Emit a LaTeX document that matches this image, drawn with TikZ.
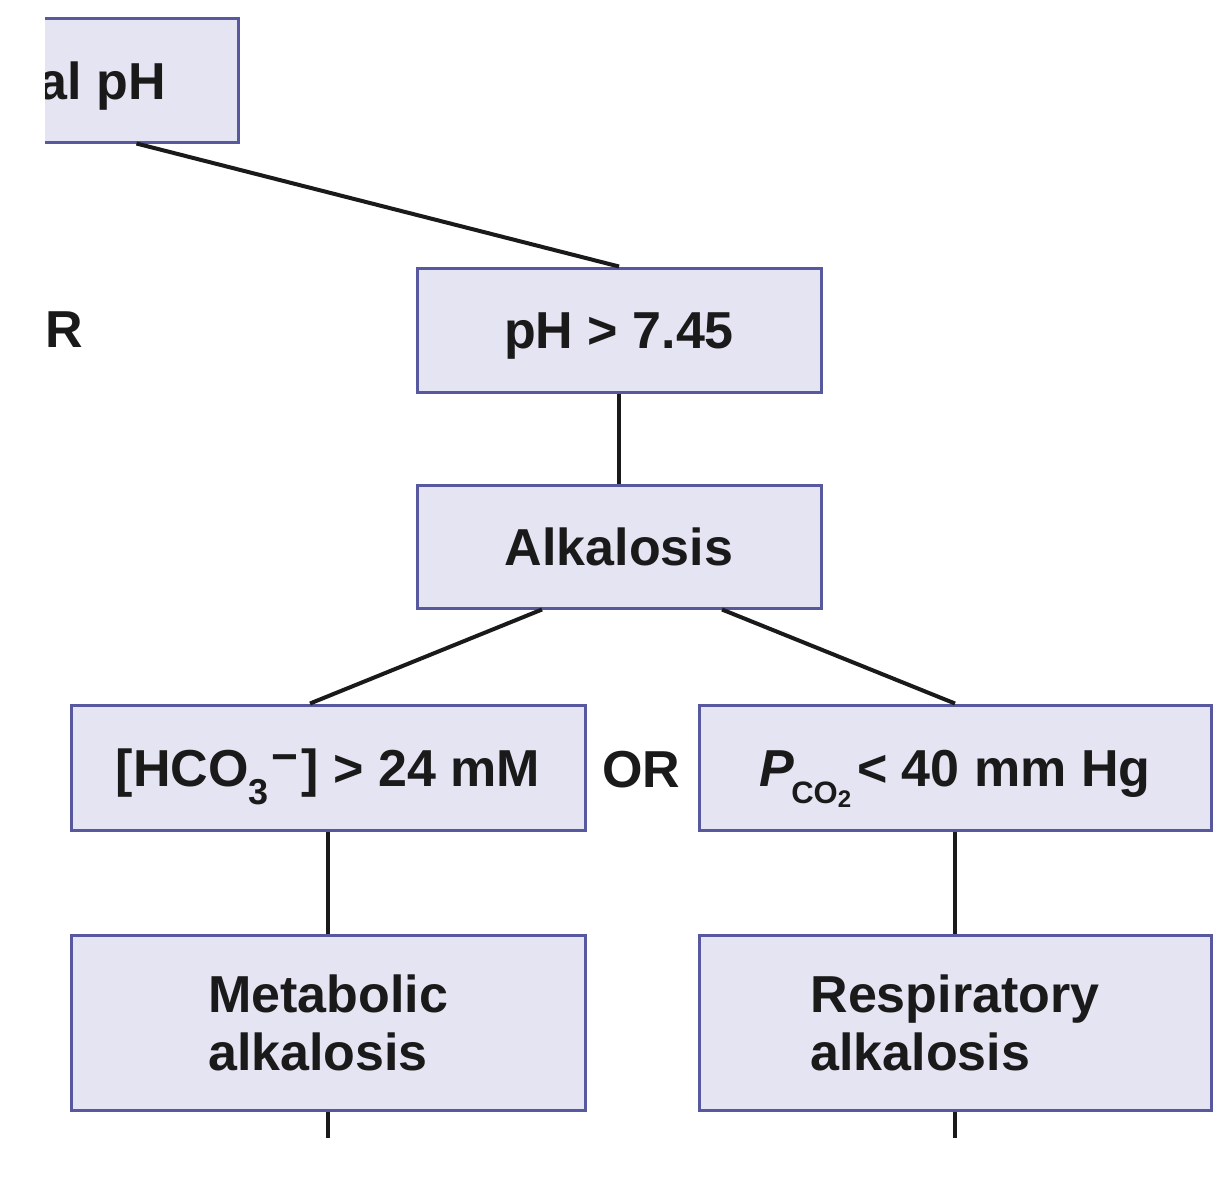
\documentclass[tikz,border=0pt]{standalone}
\usepackage{fontspec}
\setmainfont{Liberation Sans}
\usetikzlibrary{calc}
\definecolor{boxfill}{RGB}{228,228,242}
\definecolor{boxline}{RGB}{88,88,158}
\definecolor{ink}{RGB}{26,26,26}
\begin{document}
\begin{tikzpicture}[x=1pt,y=-1pt,
  box/.style={draw=boxline, fill=boxfill, line width=3pt, inner sep=0pt, text=ink,
    font=\fontsize{52}{58}\selectfont\bfseries},
  onebox/.style={box, text height=37pt, text depth=0pt},
  label/.style={inner sep=0pt, text=ink, font=\fontsize{52}{58}\selectfont\bfseries},
  link/.style={draw=ink, line width=4pt}]
\useasboundingbox (0,0) rectangle (1230,1200);
\fill[white] (0,0) rectangle (1230,1200);
\clip (45,0) rectangle (1230,1200);

\coordinate (topc) at (69,80);
\coordinate (phc) at (619,330);
\coordinate (alkc) at (619,546.5);
\coordinate (hcoc) at (328,767.5);
\coordinate (pcoc) at (955,767.5);
\coordinate (metc) at (328,1022.5);
\coordinate (respc) at (955,1022.5);

\node[box, minimum width=338pt, minimum height=124pt] (top) at (topc) {};
\node[label, anchor=base east] (toplabel) at (166,99) {al pH};
\node[label, anchor=base west] (orleft) at (45,347) {R};

\node[onebox, minimum width=404pt, minimum height=124pt] (ph) at (phc) {pH > 7.45};
\node[onebox, minimum width=404pt, minimum height=123pt] (alk) at (alkc) {Alkalosis};
\node[onebox, minimum width=514pt, minimum height=125pt] (hco) at (hcoc)
  {[HCO\raisebox{-18pt}{\fontsize{36}{36}\selectfont 3}\hspace{3pt}\raisebox{14pt}{\fontsize{46}{46}\selectfont −}\hspace{3pt}] > 24 mM};
\node[label] (or) at (641,770) {OR};
\node[onebox, minimum width=512pt, minimum height=125pt] (pco) at (pcoc)
  {\textit{P}\hspace{-3pt}\raisebox{-17pt}{\fontsize{31}{31}\selectfont CO\raisebox{-4pt}{\fontsize{24}{24}\selectfont 2}}\hspace{6pt}< 40 mm Hg};
\node[box, minimum width=514pt, minimum height=175pt, align=left] (met) at (metc)
  {Metabolic\\alkalosis};
\node[box, minimum width=512pt, minimum height=175pt, align=left] (resp) at (respc)
  {Respiratory\\alkalosis};

\coordinate (metend) at (328,1138);
\coordinate (respend) at (955,1138);

\draw[link] ($(top.south east)+(-103,0)$) -- (ph.north);
\draw[link] (ph.south) -- (alk.north);
\draw[link] ($(alk.south)+(-77,0)$) -- ($(hco.north)+(-18,0)$);
\draw[link] ($(alk.south)+(103,0)$) -- (pco.north);
\draw[link] (hco.south) -- (met.north);
\draw[link] (pco.south) -- (resp.north);
\draw[link] (met.south) -- (metend);
\draw[link] (resp.south) -- (respend);
\end{tikzpicture}
\end{document}
